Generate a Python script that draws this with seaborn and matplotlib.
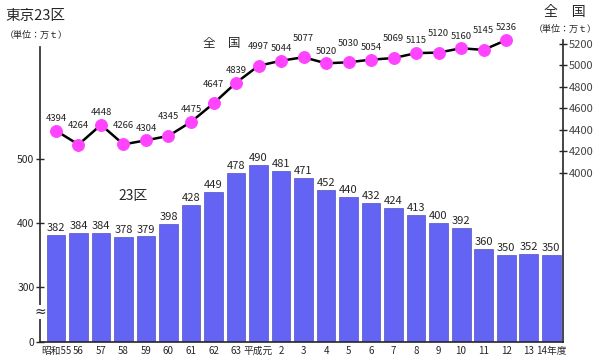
import numpy as np
import pandas as pd
import matplotlib.pyplot as plt
import seaborn as sns

years = ['昭和55', '56', '57', '58', '59', '60', '61', '62', '63', '平成元',
         '2', '3', '4', '5', '6', '7', '8', '9', '10', '11', '12', '13', '14年度']
ward = [382, 384, 384, 378, 379, 398, 428, 449, 478, 490, 481, 471,
        452, 440, 432, 424, 413, 400, 392, 360, 350, 352, 350]
national = [4394, 4264, 4448, 4266, 4304, 4345, 4475, 4647, 4839, 4997, 5044,
            5077, 5020, 5030, 5054, 5069, 5115, 5120, 5160, 5145, 5236]
left_ticks = [0, 300, 400, 500]
right_ticks = [4000, 4200, 4400, 4600, 4800, 5000, 5200]

sns.set_style('white')
plt.rcParams['font.family'] = ['Noto Sans CJK JP', 'DejaVu Sans']

# broken left axis: 0..300 squeezed into the bottom strip
SHIFT = 214


def shifted(v):
    return 0 if v == 0 else v - SHIFT


fig = plt.figure(figsize=(6, 3.6), dpi=100)
ax = fig.add_axes([40 / 600, 18 / 360, 523 / 600, 302 / 360])

df = pd.DataFrame({'year': years, 'ward': ward})
df['h'] = df['ward'] - SHIFT
sns.barplot(data=df, x='year', y='h', color='#6464f4', saturation=1,
            width=0.84, edgecolor='#3a3ab0', linewidth=0.4, ax=ax)
for i, v in enumerate(ward):
    ax.text(i, v - SHIFT + 3, str(v), ha='center', va='bottom', fontsize=8)

ax.set_xlim(-0.71, 22.53)
ax.set_ylim(0, 472)
ax.set_yticks([shifted(t) for t in left_ticks])
ax.set_yticklabels([str(t) for t in left_ticks], fontsize=7.5)
ax.tick_params(axis='y', direction='inout', length=6, width=1, pad=1)
ax.tick_params(axis='x', length=0, labelsize=7, pad=3)
ax.set_xlabel('')
ax.set_ylabel('')
for s in ['top', 'right']:
    ax.spines[s].set_visible(False)
ax.spines['left'].set_bounds(0, 461)
ax.spines['left'].set_linewidth(1.2)
ax.spines['bottom'].set_linewidth(1.2)
ax.text(0, 47, '≈', transform=ax.get_yaxis_transform(), ha='center',
        va='center', fontsize=10, family='DejaVu Sans',
        bbox=dict(facecolor='white', edgecolor='none', pad=0))

ax2 = ax.twinx()
sns.lineplot(x=np.arange(len(national)), y=national, ax=ax2, color='black',
             linewidth=1.8, marker='o', markersize=8.5,
             markerfacecolor='#ff44ff', markeredgecolor='#ff44ff', clip_on=False)
for i, v in enumerate(national):
    ax2.annotate(str(v), (i, v), xytext=(0, 7 + 5 * (i % 2)),
                 textcoords='offset points', ha='center', fontsize=6.8,
                 color='#222222')
ax2.set_ylim(2428, 5237)
ax2.set_yticks(right_ticks)
ax2.set_yticklabels([str(t) for t in right_ticks], fontsize=8, color='#444444')
ax2.tick_params(axis='y', direction='inout', length=6, width=1, pad=1)
for s in ['top', 'left', 'bottom']:
    ax2.spines[s].set_visible(False)
ax2.spines['right'].set_linewidth(1.2)

fig.text(5 / 600, 1 - 16 / 360, '東京23区', fontsize=10.5, va='center')
fig.text(5 / 600, 1 - 35 / 360, '（単位：万ｔ）', fontsize=6.5, va='center')
fig.text(565 / 600, 1 - 12 / 360, '全　国', fontsize=10, va='center', ha='center')
fig.text(565 / 600, 1 - 29 / 360, '（単位：万ｔ）', fontsize=6.5, va='center', ha='center')
fig.text(222 / 600, 1 - 43 / 360, '全　国', fontsize=9, va='center', ha='center')
fig.text(133 / 600, 1 - 196 / 360, '23区', fontsize=10, va='center', ha='center')

fig.savefig('out.png', dpi=100)
